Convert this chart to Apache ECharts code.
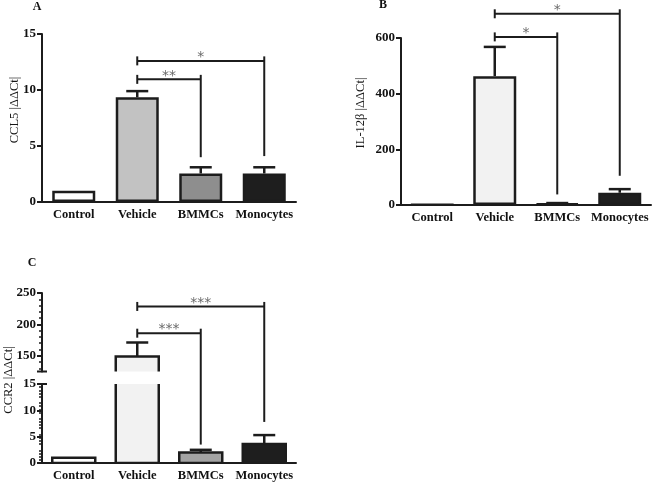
<!DOCTYPE html>
<html>
<head>
<meta charset="utf-8">
<script src="https://cdn.jsdelivr.net/npm/echarts@6/dist/echarts.min.js"></script>
<style>
  html, body { margin: 0; padding: 0; background: #fff; }
  #chart { width: 654px; height: 483px; }
</style>
</head>
<body>
<div id="chart"></div>
<script>
// groups on every panel
const categories = ['Control', 'Vehicle', 'BMMCs', 'Monocytes'];

// A - CCL5
const ccl5Mean = [1.0, 9.35, 2.55, 2.55];
const ccl5Top = [null, 9.9, 3.1, 3.1];        // mean + error
const ccl5Pairs = [[1, 2], [1, 3]];
const ccl5BracketY = [10.95, 12.6];
const ccl5LegEnd = [4.0, 4.1];
const ccl5Stars = ['**', '*'];

// B - IL-12b
const il12Mean = [1, 463, 5, 44];
const il12Top = [null, 568, 7, 57];
const il12Pairs = [[1, 2], [1, 3]];
const il12BracketY = [604, 687];
const il12LegEnd = [38, 105];
const il12Stars = ['*', '*'];

// C - CCR2 (broken axis)
const ccr2Mean = [1.0, 149, 2.0, 3.6];
const ccr2Top = [null, 171, 2.5, 5.3];
const ccr2Pairs = [[1, 2], [1, 3]];
const ccr2BracketY = [186, 228.6];
const ccr2LegEnd = [3.5, 7.8];
const ccr2Stars = ['***', '***'];

const ccl5Ticks = [0, 5, 10, 15];
const il12Ticks = [0, 200, 400, 600];
const ccr2LowTicks = [0, 5, 10, 15];
const ccr2HighTicks = [150, 200, 250];
const ccr2HighMinor = [130, 140, 160, 170, 180, 190, 210, 220, 230, 240];

// colours
const ccl5Colors = ['#ffffff', '#c2c2c2', '#8e8e8e', '#1e1e1e'];
const il12Colors = ['#ffffff', '#f2f2f2', '#b0b0b0', '#1e1e1e'];
const ccr2Colors = ['#ffffff', '#f2f2f2', '#a3a3a3', '#1e1e1e'];

const INK = '#1c1c1c';
const SERIF = '"Liberation Serif", "DejaVu Serif", serif';
const BAR_W = 43;

// layout of the four grids
const gridA = { left: 42, top: 34, width: 254, height: 168 };
const gridB = { left: 401, top: 38, width: 250, height: 167 };
const gridCHigh = { left: 42, top: 293, width: 254, height: 78.5 };
const gridCLow = { left: 42, top: 384, width: 254, height: 79 };
const breakGap = gridCLow.top - (gridCHigh.top + gridCHigh.height);

const chart = echarts.init(document.getElementById('chart'));

function xAxisFor(gridIndex, show) {
  return {
    type: 'category', gridIndex: gridIndex, data: categories, show: show,
    axisLine: { lineStyle: { color: INK, width: 2 } },
    axisTick: { alignWithLabel: true, length: 4, lineStyle: { color: INK, width: 2 } },
    axisLabel: { interval: 0, color: '#111', fontFamily: SERIF, fontWeight: 'bold', fontSize: 12.5, margin: 6 }
  };
}

function yAxisFor(gridIndex, min, max, ticks, extra) {
  return Object.assign({
    type: 'value', gridIndex: gridIndex, min: min, max: max, position: 'left',
    splitLine: { show: false },
    axisLine: { show: true, lineStyle: { color: INK, width: 2 } },
    axisTick: { show: true, length: 5, customValues: ticks, lineStyle: { color: INK, width: 2 } },
    axisLabel: { customValues: ticks, color: '#111', fontFamily: SERIF, fontWeight: 'bold', fontSize: 13, margin: 6 }
  }, extra || {});
}

function barSeries(axisIndex, values, colors, border) {
  return {
    type: 'bar', xAxisIndex: axisIndex, yAxisIndex: axisIndex, barWidth: BAR_W,
    clip: true, animation: false,
    data: values.map((v, i) => ({
      value: v,
      itemStyle: { color: colors[i], borderColor: INK, borderWidth: border ? 2.5 : 0 }
    }))
  };
}

// outline of bars on the broken axis, clipped by the grid so the cut side stays open
function outlineSeries(axisIndex, values) {
  return {
    type: 'custom', xAxisIndex: axisIndex, yAxisIndex: axisIndex, clip: true, z: 4,
    data: values.map((v, i) => [i, v]),
    renderItem: function (params, api) {
      const top = api.coord([api.value(0), api.value(1)]);
      const base = api.coord([api.value(0), 0]);
      return {
        type: 'rect',
        shape: { x: top[0] - BAR_W / 2, y: top[1], width: BAR_W, height: base[1] - top[1] },
        style: { fill: null, stroke: INK, lineWidth: 2.5 }
      };
    }
  };
}

function errorSeries(axisIndex, means, tops) {
  const data = [];
  means.forEach((m, i) => { if (tops[i] != null) data.push([i, m, tops[i]]); });
  return {
    type: 'custom', xAxisIndex: axisIndex, yAxisIndex: axisIndex, clip: true, z: 5,
    data: data,
    renderItem: function (params, api) {
      const p0 = api.coord([api.value(0), api.value(1)]);
      const p1 = api.coord([api.value(0), api.value(2)]);
      const st = { stroke: INK, lineWidth: 2.5 };
      return {
        type: 'group', children: [
          { type: 'line', shape: { x1: p0[0], y1: p0[1], x2: p1[0], y2: p1[1] }, style: st },
          { type: 'line', shape: { x1: p1[0] - 11, y1: p1[1], x2: p1[0] + 11, y2: p1[1] }, style: st }
        ]
      };
    }
  };
}

// significance brackets; floor/extend let the leg run past a broken axis
function bracketSeries(axisIndex, pairs, ys, legEnds, stars, floor, extend) {
  return {
    type: 'custom', xAxisIndex: axisIndex, yAxisIndex: axisIndex, clip: false, z: 6,
    data: pairs.map((p, i) => [p[0], p[1], ys[i], legEnds[i]]),
    renderItem: function (params, api) {
      const a = api.coord([api.value(0), api.value(2)]);
      const b = api.coord([api.value(1), api.value(2)]);
      let legY = api.coord([api.value(1), api.value(3)])[1];
      if (floor != null) legY = api.coord([api.value(1), floor])[1] + extend;
      const st = { stroke: INK, lineWidth: 2 };
      return {
        type: 'group', children: [
          { type: 'line', shape: { x1: a[0], y1: a[1], x2: b[0], y2: b[1] }, style: st },
          { type: 'line', shape: { x1: a[0], y1: a[1] - 4.5, x2: a[0], y2: a[1] + 4.5 }, style: st },
          { type: 'line', shape: { x1: b[0], y1: b[1] - 4.5, x2: b[0], y2: legY }, style: st },
          {
            type: 'text', x: (a[0] + b[0]) / 2, y: a[1] + 3.5,
            style: {
              text: stars[params.dataIndex], fill: '#6a6a6a',
              font: '14px "DejaVu Sans"', align: 'center', verticalAlign: 'bottom'
            }
          }
        ]
      };
    }
  };
}

// lower part of a leg on the broken C axis
function legSeries(axisIndex, pairs, legEnds, from) {
  return {
    type: 'custom', xAxisIndex: axisIndex, yAxisIndex: axisIndex, clip: false, z: 6,
    data: pairs.map((p, i) => [p[1], legEnds[i]]),
    renderItem: function (params, api) {
      const a = api.coord([api.value(0), from]);
      const b = api.coord([api.value(0), api.value(1)]);
      return { type: 'line', shape: { x1: a[0], y1: a[1], x2: b[0], y2: b[1] }, style: { stroke: INK, lineWidth: 2 } };
    }
  };
}

function sideTitle(text, x, y) {
  return {
    type: 'text', x: x, y: y, rotation: Math.PI / 2,
    style: { text: text, fill: '#151515', font: '12.5px ' + SERIF, align: 'center', verticalAlign: 'middle' }
  };
}

function panelLetter(text, x, y) {
  return {
    type: 'text', x: x, y: y,
    style: { text: text, fill: '#111', font: 'bold 12px ' + SERIF, align: 'center', verticalAlign: 'middle' }
  };
}

function breakCap(y) {
  return {
    type: 'line', shape: { x1: gridCLow.left - 5, y1: y, x2: gridCLow.left + 5, y2: y },
    style: { stroke: INK, lineWidth: 2 }
  };
}

chart.setOption({
  animation: false,
  grid: [gridA, gridB, gridCHigh, gridCLow],
  xAxis: [xAxisFor(0, true), xAxisFor(1, true), xAxisFor(2, false), xAxisFor(3, true)],
  yAxis: [
    yAxisFor(0, 0, 15, ccl5Ticks),
    yAxisFor(1, 0, 600, il12Ticks),
    yAxisFor(2, 125, 250, ccr2HighTicks),
    yAxisFor(3, 0, 15, ccr2LowTicks, {
      minorTick: { show: true, splitNumber: 5, length: 3, lineStyle: { color: INK, width: 1.5 } }
    }),
    // minor ticks of the upper C segment
    {
      type: 'value', gridIndex: 2, min: 125, max: 250, position: 'left',
      splitLine: { show: false }, axisLine: { show: false }, axisLabel: { show: false },
      axisTick: { show: true, length: 3, customValues: ccr2HighMinor, lineStyle: { color: INK, width: 1.5 } }
    }
  ],
  series: [
    barSeries(0, ccl5Mean, ccl5Colors, true),
    errorSeries(0, ccl5Mean, ccl5Top),
    bracketSeries(0, ccl5Pairs, ccl5BracketY, ccl5LegEnd, ccl5Stars),

    barSeries(1, il12Mean, il12Colors, true),
    errorSeries(1, il12Mean, il12Top),
    bracketSeries(1, il12Pairs, il12BracketY, il12LegEnd, il12Stars),

    barSeries(2, ccr2Mean, ccr2Colors, false),
    outlineSeries(2, ccr2Mean),
    errorSeries(2, ccr2Mean, ccr2Top),
    bracketSeries(2, ccr2Pairs, ccr2BracketY, ccr2LegEnd, ccr2Stars, 125, breakGap),
    barSeries(3, ccr2Mean, ccr2Colors, false),
    outlineSeries(3, ccr2Mean),
    errorSeries(3, ccr2Mean, ccr2Top),
    legSeries(3, ccr2Pairs, ccr2LegEnd, 15)
  ],
  graphic: [
    panelLetter('A', 37, 7),
    panelLetter('B', 383, 5),
    panelLetter('C', 32, 263),
    sideTitle('CCL5 |ΔΔCt|', 15, 110),
    sideTitle('IL-12β |ΔΔCt|', 361, 113),
    sideTitle('CCR2 |ΔΔCt|', 9, 380),
    breakCap(gridCHigh.top + gridCHigh.height),
    breakCap(gridCLow.top)
  ]
});
</script>
</body>
</html>
